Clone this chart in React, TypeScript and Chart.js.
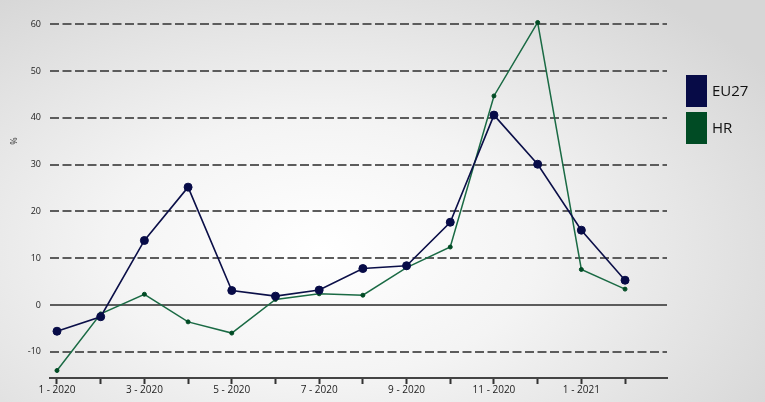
import React, { useEffect, useRef } from "react";
import { Chart, registerables } from "chart.js";
Chart.register(...registerables);

const months = ["1 - 2020", "2 - 2020", "3 - 2020", "4 - 2020", "5 - 2020", "6 - 2020", "7 - 2020", "8 - 2020", "9 - 2020", "10 - 2020", "11 - 2020", "12 - 2020", "1 - 2021", "2 - 2021"];
const tickLabels = ["1 - 2020", "", "3 - 2020", "", "5 - 2020", "", "7 - 2020", "", "9 - 2020", "", "11 - 2020", "", "1 - 2021", ""];
const eu27 = [-5.6, -2.5, 13.8, 25.2, 3.1, 1.9, 3.2, 7.8, 8.4, 17.7, 40.6, 30.1, 16.0, 5.3];
const hr = [-14.0, -1.9, 2.3, -3.6, -6.0, 1.2, 2.4, 2.1, 8.0, 12.4, 44.7, 60.4, 7.6, 3.4];
const yTicks = [-10, 0, 10, 20, 30, 40, 50, 60];
const seriesNames = ["EU27", "HR"];
const seriesColors = ["#070b47", "#004b24"];
const lineColors = ["#0b0f48", "#1a6a44"];

const FONT = "'Open Sans', 'DejaVu Sans', sans-serif";

const overlayPlugin = {
  id: "overlay",
  beforeDatasetsDraw(chart: any) {
    const { ctx, chartArea, scales } = chart;
    const y0 = scales.y.getPixelForValue(0);
    ctx.save();
    ctx.strokeStyle = "#5c5c5c";
    ctx.lineWidth = 2;
    ctx.setLineDash([]);
    ctx.beginPath();
    ctx.moveTo(chartArea.left, y0);
    ctx.lineTo(chartArea.right, y0);
    ctx.stroke();
    ctx.restore();
  },
  afterDraw(chart: any) {
    const { ctx } = chart;
    ctx.save();
    ctx.translate(14, 141);
    ctx.rotate(-Math.PI / 2);
    ctx.fillStyle = "#333";
    ctx.font = "9px " + FONT;
    ctx.textAlign = "center";
    ctx.textBaseline = "middle";
    ctx.fillText("%", 0, 0);
    ctx.restore();
    ctx.save();
    const boxes = [75, 112];
    seriesNames.forEach((name, i) => {
      ctx.fillStyle = seriesColors[i];
      ctx.fillRect(686, boxes[i], 21, 32);
      ctx.fillStyle = "#111";
      ctx.font = "15px " + FONT;
      ctx.textAlign = "left";
      ctx.textBaseline = "middle";
      ctx.fillText(name, 712, boxes[i] + 17);
    });
    ctx.restore();
  },
};

export default function App() {
  const ref = useRef<HTMLCanvasElement | null>(null);
  useEffect(() => {
    if (!ref.current) return;
    const chart = new Chart(ref.current, {
      type: "line",
      data: {
        datasets: [
          {
            label: seriesNames[0],
            data: eu27.map((v, i) => ({ x: i, y: v })),
            borderColor: lineColors[0],
            backgroundColor: seriesColors[0],
            pointBackgroundColor: seriesColors[0],
            pointBorderColor: seriesColors[0],
            borderWidth: 1.6,
            pointRadius: 4,
            pointBorderWidth: 1,
            tension: 0,
          },
          {
            label: seriesNames[1],
            data: hr.map((v, i) => ({ x: i, y: v })),
            borderColor: lineColors[1],
            backgroundColor: seriesColors[1],
            pointBackgroundColor: seriesColors[1],
            pointBorderColor: seriesColors[1],
            borderWidth: 1.5,
            pointRadius: 2,
            pointBorderWidth: 1,
            tension: 0,
          },
        ],
      },
      options: {
        animation: false,
        responsive: false,
        devicePixelRatio: 1,
        clip: false as any,
        layout: { padding: { top: 15, right: 98, left: 0, bottom: 0 } },
        plugins: { legend: { display: false }, tooltip: { enabled: false } },
        scales: {
          x: {
            type: "linear",
            min: -0.16,
            max: 13.96,
            afterBuildTicks: (scale: any) => {
              scale.ticks = months.map((_, i) => ({ value: i }));
            },
            afterFit: (scale: any) => {
              scale.height = 24;
            },
            ticks: {
              autoSkip: false,
              maxRotation: 0,
              padding: 0,
              color: "#222",
              font: { family: FONT, size: 10 },
              callback: (v: any) => tickLabels[Math.round(v)] ?? "",
            },
            grid: {
              display: true,
              drawOnChartArea: false,
              drawTicks: true,
              tickLength: 6,
              tickWidth: 2,
              tickColor: "#333",
            },
            border: { display: true, color: "#444", width: 2 },
          },
          y: {
            type: "linear",
            min: -15.6,
            max: 62,
            afterBuildTicks: (scale: any) => {
              scale.ticks = yTicks.map((v) => ({ value: v }));
            },
            afterFit: (scale: any) => {
              scale.width = 50;
            },
            ticks: {
              padding: 9,
              color: "#222",
              font: { family: FONT, size: 9 },
            },
            grid: {
              color: "#5c5c5c",
              lineWidth: 2,
              drawTicks: false,
            },
            border: { display: false, dash: [9, 3.5] },
          },
        },
      },
      plugins: [overlayPlugin],
    });
    return () => chart.destroy();
  }, []);
  return (
    <div
      style={{
        position: "fixed",
        left: 0,
        top: 0,
        width: 765,
        height: 402,
        background: "radial-gradient(ellipse 70% 80% at 42% 62%, #ffffff 0%, #f4f4f4 40%, #d6d6d6 100%)",
      }}
    >
      <canvas ref={ref} width={765} height={402} style={{ display: "block" }} />
    </div>
  );
}
